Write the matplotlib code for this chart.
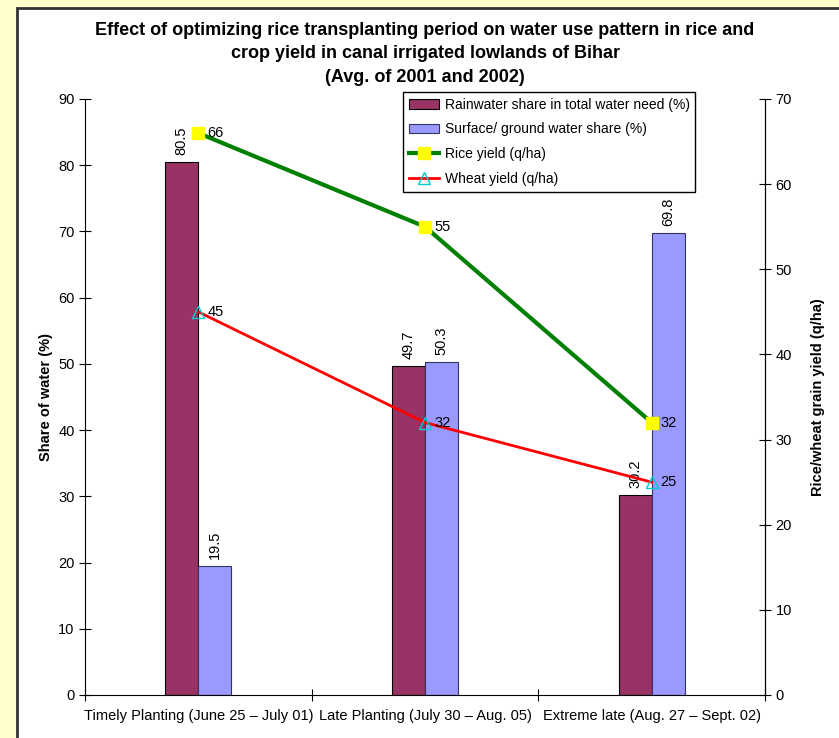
import numpy as np
import matplotlib
matplotlib.use('Agg')
import matplotlib.pyplot as plt
from matplotlib.patches import Rectangle

plt.rcParams['font.family'] = ['Liberation Sans', 'DejaVu Sans']

categories = ['Timely Planting (June 25 \u2013 July 01)',
              'Late Planting (July 30 \u2013 Aug. 05)',
              'Extreme late (Aug. 27 \u2013 Sept. 02)']
rain_share = [80.5, 49.7, 30.2]
surface_share = [19.5, 50.3, 69.8]
rice_yield = [66, 55, 32]
wheat_yield = [45, 32, 25]

fig = plt.figure(figsize=(8.39, 7.38), dpi=100)
fig.patch.set_facecolor('#FFFFCC')

# white panel with dark border on left/top
panel = Rectangle((17 / 839, -0.1), 1.2, 0.1 + (738 - 7.5) / 738, transform=fig.transFigure,
                  facecolor='white', edgecolor='#333333', lw=2, zorder=-5)
fig.patches.append(panel)

ax = fig.add_axes([85 / 839, 43 / 738, 680 / 839, 596 / 738])
ax.set_facecolor('none')
ax2 = ax.twinx()

x = np.arange(len(categories))
w = 0.146
b1 = ax.bar(x - w / 2, rain_share, w, color='#993366', edgecolor='black', lw=0.8,
            label='Rainwater share in total water need (%)')
b2 = ax.bar(x + w / 2, surface_share, w, color='#9999FF', edgecolor='#333366', lw=0.8,
            label='Surface/ ground water share (%)')
for bars in (b1, b2):
    for r in bars:
        ax.text(r.get_x() + r.get_width() / 2, r.get_height() + 1, f'{r.get_height():g}',
                rotation=90, ha='center', va='bottom', fontsize=10.5)

l1, = ax2.plot(x, rice_yield, color='#008000', lw=3, marker='s', ms=9,
               mfc='yellow', mec='yellow', label='Rice yield (q/ha)')
l2, = ax2.plot(x, wheat_yield, color='red', lw=2, marker='^', ms=8,
               mfc='none', mec='#00CCCC', label='Wheat yield (q/ha)')
for xi, v in zip(x, rice_yield):
    ax2.text(xi + 0.04, v, f'{v}', va='center', ha='left', fontsize=10.5)
for xi, v in zip(x, wheat_yield):
    ax2.text(xi + 0.04, v, f'{v}', va='center', ha='left', fontsize=10.5)

ax.set_xlim(-0.5, 2.5)
ax.set_ylim(0, 90)
ax2.set_ylim(0, 70)
ax.set_yticks(range(0, 91, 10))
ax2.set_yticks(range(0, 71, 10))
ax.set_xticks([-0.5, 0.5, 1.5, 2.5])
ax.set_xticklabels([])
ax.set_xticks(x, minor=True)
ax.set_xticklabels(categories, minor=True, fontsize=10.5)
ax.tick_params(axis='x', which='minor', length=0, pad=10)
ax.tick_params(axis='x', which='major', direction='inout', length=8)
ax.tick_params(axis='y', direction='inout', length=8, labelsize=10.5)
ax2.tick_params(axis='y', direction='inout', length=8, labelsize=10.5)

for a in (ax, ax2):
    a.spines['top'].set_visible(False)
ax2.spines['left'].set_visible(False)
ax2.spines['bottom'].set_visible(False)

ax.set_ylabel('Share of water (%)', fontsize=10.5, fontweight='bold')
ax2.set_ylabel('Rice/wheat grain yield (q/ha)', fontsize=10.5, fontweight='bold', labelpad=14)

fig.text(425 / 839, 1 - 54 / 738,
         'Effect of optimizing rice transplanting period on water use pattern in rice and\n'
         'crop yield in canal irrigated lowlands of Bihar\n(Avg. of 2001 and 2002)',
         ha='center', va='center', fontsize=13, fontweight='bold', linespacing=1.5)

leg = ax2.legend([b1, b2, l1, l2], [b1.get_label(), b2.get_label(), l1.get_label(), l2.get_label()],
                 loc='upper left', bbox_to_anchor=(403 / 839, 1 - 92 / 738),
                 bbox_transform=fig.transFigure, borderaxespad=0, fontsize=10, frameon=True,
                 fancybox=False, edgecolor='black', framealpha=1, borderpad=0.4,
                 labelspacing=0.78, handletextpad=0.4, handlelength=2.2)
leg.get_frame().set_linewidth(1)

fig.savefig('out.png', dpi=100, facecolor=fig.get_facecolor())
